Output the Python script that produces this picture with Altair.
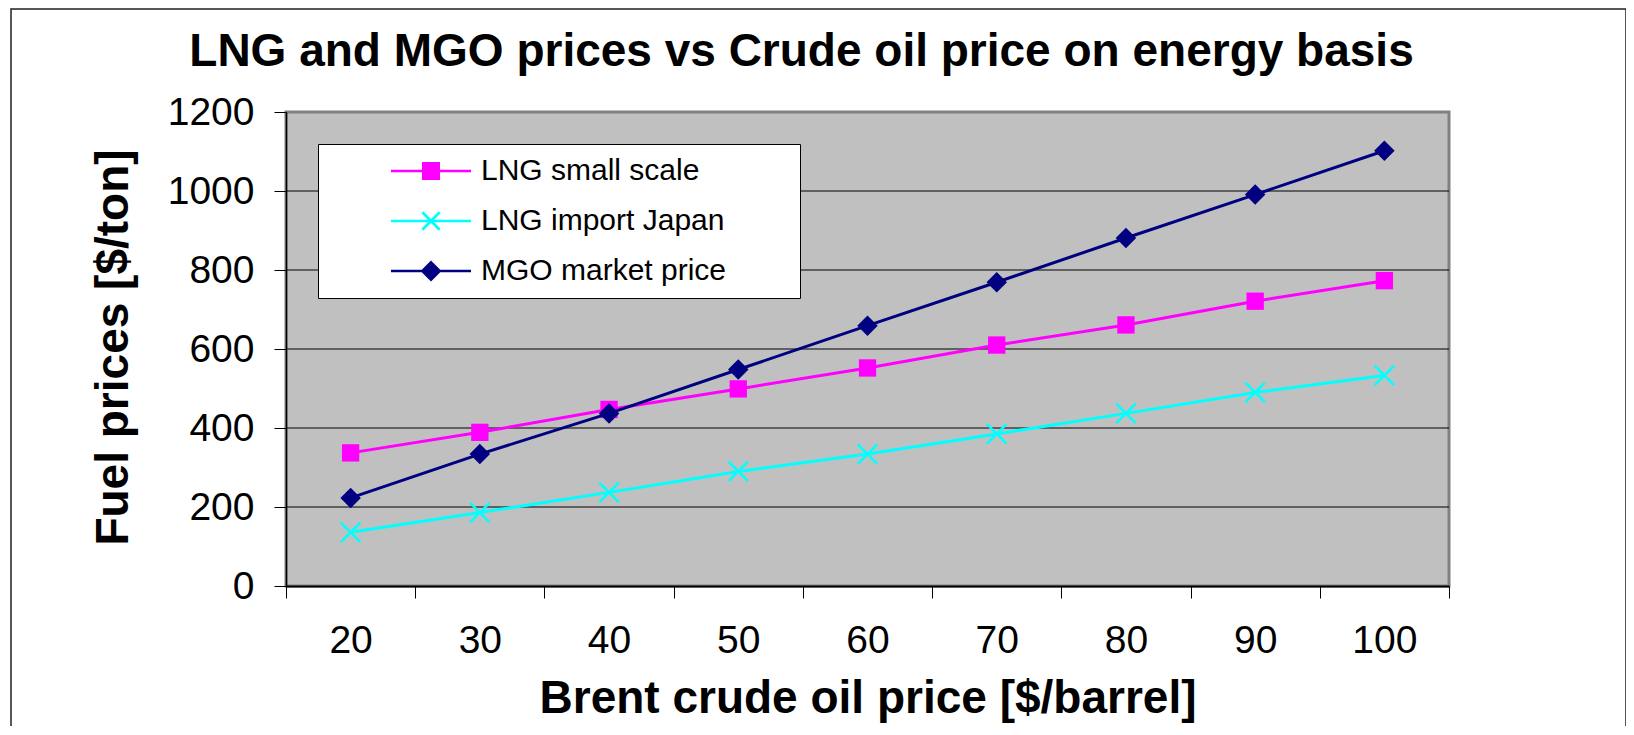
import altair as alt
import pandas as pd

# ---- data ----
brent = [20, 30, 40, 50, 60, 70, 80, 90, 100]
lng_small = [337, 389, 447, 499, 552, 610, 661, 721, 773]
lng_japan = [136, 186, 237, 290, 334, 385, 437, 490, 533]
mgo = [223, 334, 437, 548, 659, 769, 881, 991, 1102]

series_names = ["LNG small scale", "LNG import Japan", "MGO market price"]
series_values = [lng_small, lng_japan, mgo]
series_colors = ["#FF00FF", "#00FFFF", "#000080"]

y_ticks = [0, 200, 400, 600, 800, 1000, 1200]
y_grid = [200, 400, 600, 800, 1000]
x_tick_edges = [15, 25, 35, 45, 55, 65, 75, 85, 95, 105]

title_text = "LNG and MGO prices vs Crude oil price on energy basis"
x_title = "Brent crude oil price [$/barrel]"
y_title = "Fuel prices [$/ton]"

rows = []
for name, vals in zip(series_names, series_values):
    for b, v in zip(brent, vals):
        rows.append({"brent": b, "price": v, "series": name})
df = pd.DataFrame(rows)
grid_df = pd.DataFrame({"g": y_grid})

FONT = "Liberation Sans"

# ---- marker styles ----
marker_shape = ["square", "M-1,-1L1,1M-1,1L1,-1", "diamond"]
marker_filled = [True, False, True]
marker_size = [300, 380, 420]

# legend symbols: line segment + marker, closed filled paths (unit r = 15 px)
L = 2.667
t = 0.09
s = 0.6
d = 0.7
a = 0.58
o = 0.065
line_p = f"M-{L},-{t}L{L},-{t}L{L},{t}L-{L},{t}Z"
sq_p = f"M-{s},-{s}L{s},-{s}L{s},{s}L-{s},{s}Z"
dia_p = f"M0,-{d}L{d},0L0,{d}L-{d},0Z"
x_p = (f"M{-a+o:.3f},{-a-o:.3f}L{a+o:.3f},{a-o:.3f}L{a-o:.3f},{a+o:.3f}L{-a-o:.3f},{-a+o:.3f}Z"
       f"M{-a-o:.3f},{a-o:.3f}L{a-o:.3f},{-a-o:.3f}L{a+o:.3f},{-a+o:.3f}L{-a+o:.3f},{a+o:.3f}Z")
legend_paths = [line_p + sq_p, line_p + x_p, line_p + dia_p]

x_scale = alt.Scale(domain=[15, 105], nice=False, zero=False)
y_scale = alt.Scale(domain=[0, 1200], nice=False, zero=True)

y_axis = alt.Axis(
    values=y_ticks, orient="left", format="d", tickSize=12, tickColor="black", tickWidth=1,
    domain=True, domainColor="black", domainWidth=1.5, grid=False,
    labelFont=FONT, labelFontSize=39, labelColor="black", labelPadding=20,
    title=y_title, titleFont=FONT, titleFontSize=46, titleFontWeight="bold", titleColor="black",
    titleX=-159, titleY=235, titleBaseline="alphabetic", titleAlign="center", titleAngle=270,
)

x_axis_ticks = alt.Axis(
    orient="bottom", values=x_tick_edges, labels=False, ticks=True, tickSize=12,
    tickColor="black", tickWidth=1, domain=True, domainColor="black", domainWidth=2,
    grid=False, title=None,
)
x_axis_labels = alt.Axis(
    orient="bottom", values=brent, format="d", ticks=False, tickSize=0, domain=False, grid=False,
    labelFont=FONT, labelFontSize=39, labelColor="black", labelPadding=66,
    labelBaseline="alphabetic", labelFlush=False, labelOverlap=False,
    title=x_title, titleFont=FONT, titleFontSize=46, titleFontWeight="bold",
    titleColor="black", titleY=126, titleBaseline="alphabetic",
)

base = alt.Chart(df)

# empty layer that carries the legend and the x labels axis
legend_layer = base.transform_filter("false").mark_point(filled=True, opacity=1).encode(
    x=alt.X("brent:Q", scale=x_scale, axis=x_axis_labels),
    y=alt.Y("price:Q", scale=y_scale, axis=None),
    color=alt.Color(
        "series:N",
        scale=alt.Scale(domain=series_names, range=series_colors),
        legend=alt.Legend(
            orient="none", legendX=32, legendY=32,
            title="\u00a0", titleOrient="right", titlePadding=62, titleFontSize=8,
            fillColor="white", strokeColor="black", padding=12,
            symbolSize=900, symbolOpacity=1, symbolStrokeWidth=0, symbolOffset=86,
            labelFont=FONT, labelFontSize=30, labelColor="black", labelOffset=35,
            rowPadding=20, labelLimit=600,
        ),
    ),
    shape=alt.Shape("series:N", scale=alt.Scale(domain=series_names, range=legend_paths)),
)

grid = alt.Chart(grid_df).mark_rule(color="#000000", strokeWidth=1).encode(
    y=alt.Y("g:Q", scale=y_scale, axis=None)
)

layers = [legend_layer, grid]
for i, name in enumerate(series_names):
    sub = base.transform_filter(alt.datum.series == name)
    line = sub.mark_line(color=series_colors[i], strokeWidth=3).encode(
        x=alt.X("brent:Q", scale=x_scale, axis=x_axis_ticks if i == 0 else None),
        y=alt.Y("price:Q", scale=y_scale, axis=y_axis if i == 0 else None),
    )
    pts = sub.mark_point(
        shape=marker_shape[i], filled=marker_filled[i], color=series_colors[i],
        size=marker_size[i], opacity=1, strokeWidth=2.5,
    ).encode(
        x=alt.X("brent:Q", scale=x_scale, axis=None),
        y=alt.Y("price:Q", scale=y_scale, axis=None),
    )
    layers += [line, pts]

frame = alt.Chart(pd.DataFrame({"k": [0]})).mark_rect(
    fillOpacity=0, stroke="#202020", strokeWidth=1.5
).encode(
    x=alt.value(-275), x2=alt.value(1340), y=alt.value(-103), y2=alt.value(650)
)

chart = alt.layer(*layers, frame).resolve_axis(x="independent", y="independent").properties(
    width=1163,
    height=474,
    padding={"left": 278, "top": 104, "right": 177, "bottom": 140},
    autosize=alt.AutoSizeParams(type="none"),
    title=alt.TitleParams(
        title_text, font=FONT, fontSize=46, fontWeight="bold", color="black",
        anchor="middle", frame="group", dx=-66, dy=104, baseline="alphabetic", offset=0,
    ),
).configure(
    background="white"
).configure_view(
    fill="#C0C0C0", stroke="#808080", strokeWidth=3
).configure_legend(
    strokeWidth=1
)

chart.save("out.html", embed_options={"renderer": "svg", "actions": False})
